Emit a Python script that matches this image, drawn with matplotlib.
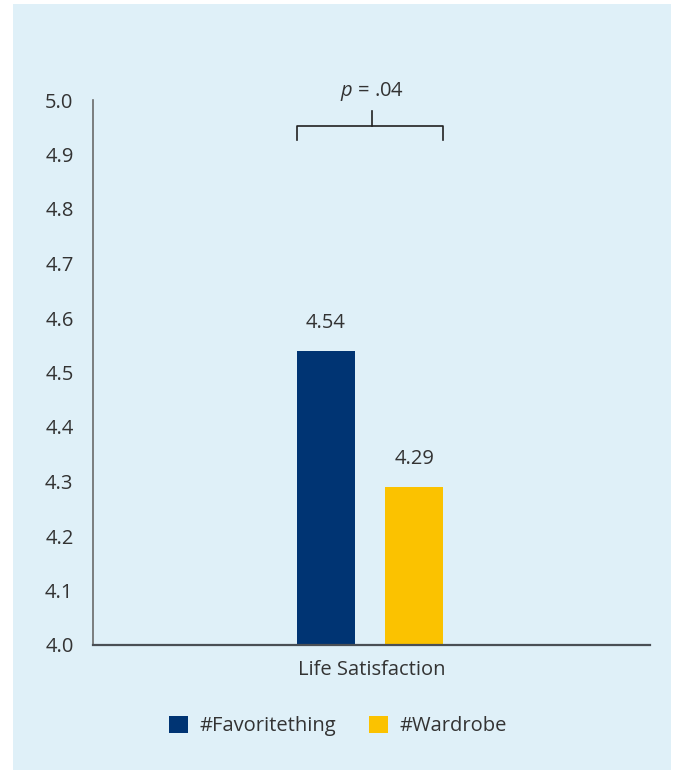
import matplotlib.pyplot as plt
from matplotlib.patches import Rectangle, Patch

groups = ["#Favoritething", "#Wardrobe"]
values = [4.54, 4.29]
colors = ["#003473", "#FBC200"]
category = "Life Satisfaction"
yticks = [4.0, 4.1, 4.2, 4.3, 4.4, 4.5, 4.6, 4.7, 4.8, 4.9, 5.0]
p_label = "$p$ = .04"

plt.rcParams['font.family'] = ['Open Sans', 'DejaVu Sans']
plt.rcParams['mathtext.fontset'] = 'custom'
plt.rcParams['mathtext.it'] = 'Open Sans:italic'
txt = "#333333"
bg = "#DFF0F8"
fs = 14.5

fig = plt.figure(figsize=(6.78, 7.72), dpi=100)
fig.patch.set_facecolor("white")
fig.patches.append(Rectangle((13/678, 1-770/772), 658/678, 766/772,
                             transform=fig.transFigure, facecolor=bg,
                             edgecolor="none", zorder=-10))

ax = fig.add_axes([93/678, 1-645/772, 557/678, 545/772])
ax.set_facecolor("none")
ax.set_zorder(1)

offsets = [-0.164, 0.153]
width = 0.208
for off, v, c in zip(offsets, values, colors):
    ax.bar(off, v - 4.0, bottom=4.0, width=width, color=c, zorder=2)
    ax.text(off, v + 0.033, f"{v:.2f}", ha="center", va="bottom",
            fontsize=fs, color=txt)

ax.set_xlim(-1, 1)
ax.set_ylim(4.0, 5.0)
ax.set_yticks(yticks)
ax.set_yticklabels([f"{t:.1f}" for t in yticks])
ax.tick_params(axis="y", length=0, pad=14, labelsize=fs, colors=txt)
ax.set_xticks([0])
ax.set_xticklabels([category])
ax.tick_params(axis="x", length=0, pad=11, labelsize=fs, colors=txt)

for s in ["top", "right"]:
    ax.spines[s].set_visible(False)
ax.spines["left"].set_color("#6a6a6a")
ax.spines["left"].set_linewidth(1.2)
ax.spines["bottom"].set_color("#4a4f55")
ax.spines["bottom"].set_linewidth(1.6)

# significance bracket
x0 = offsets[0] - width / 2
x1 = offsets[1] + width / 2
yb = 4.952
ax.plot([x0, x0, x1, x1], [4.927, yb, yb, 4.927], color="#222222", lw=1.2,
        clip_on=False)
ax.plot([0, 0], [yb, 4.980], color="#222222", lw=1.2, clip_on=False)
ax.text(0, 5.015, p_label, ha="center", va="center", fontsize=fs, color=txt)

handles = [Patch(facecolor=c, edgecolor="none") for c in colors]
fig.legend(handles, groups, loc="center", bbox_to_anchor=(338/678, 1-726/772),
           ncol=2, frameon=False, fontsize=fs, handlelength=0.95,
           handleheight=0.95, handletextpad=0.55, columnspacing=1.65,
           labelcolor=txt)

fig.savefig("out.png", dpi=100)
plt.close(fig)
